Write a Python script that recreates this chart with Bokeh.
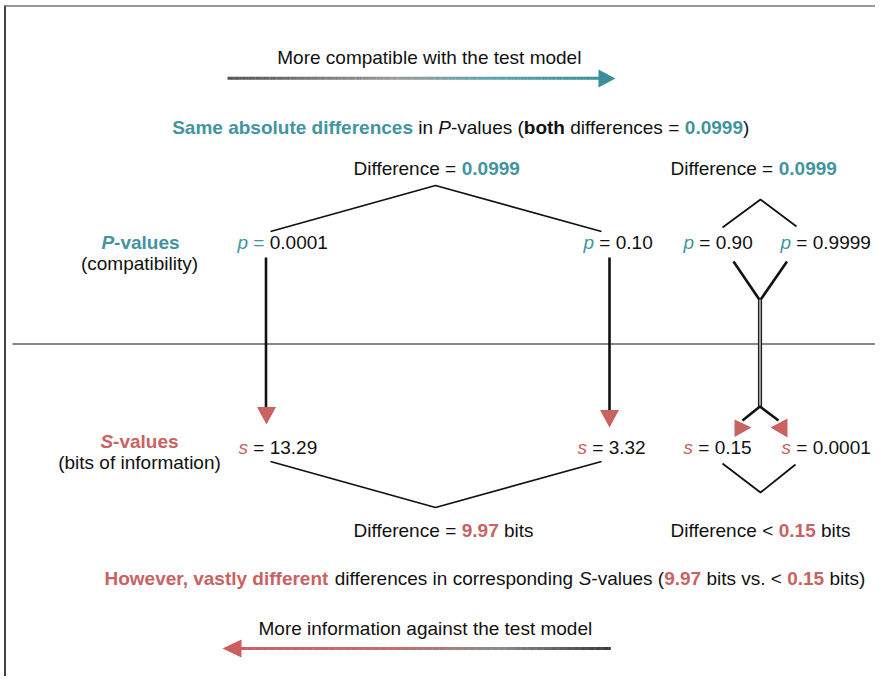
import numpy as np
from bokeh.plotting import figure
from bokeh.models import Range1d
from bokeh.embed import file_html
from bokeh.resources import INLINE
from bokeh.core.properties import value

# ---------------- data ----------------
p_values = ["0.0001", "0.10", "0.90", "0.9999"]
s_values = ["13.29", "3.32", "0.15", "0.0001"]
p_diffs = ["0.0999", "0.0999"]
s_diffs = ["9.97", "0.15"]
s_diff_ops = ["=", "<"]
row_labels = [("P", "-values", "(compatibility)"), ("S", "-values", "(bits of information)")]
top_caption = "More compatible with the test model"
bottom_caption = "More information against the test model"

# ---------------- layout (picture pixels) ----------------
p_label_x = [237, 583, 683, 780]
s_label_x = [238, 577, 683, 781]
P_BASE, S_BASE = 249, 453.5
TEXT_DY = -7

TEAL = "#42949f"
RED = "#c96262"
BLACK = "#111111"
FONT = "Liberation Sans"
FS = 19

REG = {' ': 278, '(': 333, ')': 333, ',': 278, '-': 333, '.': 278, '<': 584, '=': 584,
       'A': 667, 'B': 667, 'C': 722, 'D': 722, 'E': 667, 'F': 611, 'G': 778, 'H': 722, 'I': 278,
       'M': 833, 'P': 667, 'S': 667, 'T': 611,
       'a': 556, 'b': 556, 'c': 500, 'd': 556, 'e': 556, 'f': 278, 'g': 556, 'h': 556, 'i': 222,
       'j': 222, 'k': 500, 'l': 222, 'm': 833, 'n': 556, 'o': 556, 'p': 556, 'q': 556, 'r': 333,
       's': 500, 't': 278, 'u': 556, 'v': 500, 'w': 722, 'x': 500, 'y': 500, 'z': 500}
BOLD = {' ': 278, '(': 333, ')': 333, ',': 278, '-': 333, '.': 278, '<': 584, '=': 584,
        'H': 722, 'P': 667, 'S': 667,
        'a': 556, 'b': 611, 'c': 556, 'd': 611, 'e': 556, 'f': 333, 'g': 611, 'h': 611, 'i': 278,
        'l': 278, 'm': 889, 'n': 611, 'o': 611, 'r': 389, 's': 556, 't': 333, 'u': 611, 'v': 556,
        'w': 778, 'y': 556}


def tw(s, bold=False):
    t = BOLD if bold else REG
    return sum(t.get(c, 556) for c in s) * FS / 1000.0


W, H = 875, 676
p = figure(width=W, height=H, x_range=Range1d(0, W), y_range=Range1d(H, 0),
           output_backend="svg", toolbar_location=None, min_border=0,
           x_axis_location=None, y_axis_location=None)
p.grid.visible = False
p.outline_line_color = None
p.background_fill_color = "white"


def rich(x, y, parts, align="left"):
    total = sum(tw(s, b) for s, b, i, c in parts)
    if align == "center":
        x -= total / 2.0
    for s, b, i, c in parts:
        lead = len(s) - len(s.lstrip(" "))
        st = s.strip(" ")
        if st:
            style = "bold italic" if (b and i) else "bold" if b else "italic" if i else "normal"
            p.text(x=[x + tw(s[:lead], b)], y=[y + TEXT_DY], text=[st], text_font=value(FONT),
                   text_font_size=f"{FS}px", text_font_style=style, text_color=c,
                   text_baseline="alphabetic", text_align="left")
        x += tw(s, b)


def hexrgb(h):
    h = h.lstrip("#")
    return np.array([int(h[i:i + 2], 16) for i in (0, 2, 4)], float)


def grad_line(x0, x1, y, stops, width):
    n = 160
    xs = np.linspace(x0, x1, n + 1)
    pos = np.array([s[0] for s in stops])
    cols = np.array([hexrgb(s[1]) for s in stops])
    t = (np.arange(n) + 0.5) / n
    rgb = np.stack([np.interp(t, pos, cols[:, k]) for k in range(3)], axis=1)
    colors = ["#%02x%02x%02x" % tuple(int(round(v)) for v in c) for c in rgb]
    p.segment(x0=xs[:-1], y0=[y] * n, x1=xs[1:] + 0.3 * np.sign(x1 - x0), y1=[y] * n,
              line_color=colors, line_width=width)


# frame lines
p.line([4.5, 4.5], [5, H], line_color="black", line_width=1.5)
p.line([4, W], [5.5, 5.5], line_color="#777777", line_width=1.5)

# top arrow
top_stops = [(0, "#555555"), (0.45, "#999999"), (0.7, "#5ea3ab"), (1, "#3a8e98")]
grad_line(227, 599, 77.7, top_stops, 3)
p.patch([598, 598, 615], [69, 87, 78], fill_color="#3a8e98", line_color=None)
rich(428.8, 64, [(top_caption, False, False, BLACK)], align="center")

# title line
rich(171.7, 133.5, [("Same absolute differences", True, False, TEAL), (" in ", False, False, BLACK),
                    ("P", False, True, BLACK), ("-values (", False, False, BLACK),
                    ("both", True, False, BLACK), (" differences = ", False, False, BLACK),
                    (p_diffs[0], True, False, TEAL), (")", False, False, BLACK)])

# top difference labels
rich(353, 175, [("Difference = ", False, False, BLACK), (p_diffs[0], True, False, TEAL)])
rich(670, 175, [("Difference = ", False, False, BLACK), (p_diffs[1], True, False, TEAL)])

# roofs
p.line([270, 435, 601], [231, 185, 231], line_color=BLACK, line_width=1.8)
p.line([722, 760, 796], [227, 199, 226], line_color=BLACK, line_width=1.8)
p.line([270, 435, 601], [461, 507, 461], line_color=BLACK, line_width=1.8)
p.line([722, 760, 795], [463, 492, 464], line_color=BLACK, line_width=1.8)

# row labels
rich(140, 249, [(row_labels[0][0], True, True, TEAL), (row_labels[0][1], True, False, TEAL)], align="center")
rich(139, 270, [(row_labels[0][2], False, False, BLACK)], align="center")
rich(139, 448, [(row_labels[1][0], True, True, RED), (row_labels[1][1], True, False, RED)], align="center")
rich(139, 469, [(row_labels[1][2], False, False, BLACK)], align="center")

# p labels
for k, (xv, pv) in enumerate(zip(p_label_x, p_values)):
    eqc = TEAL if k == 0 else BLACK
    rich(xv, P_BASE, [("p", False, True, TEAL), (" = ", False, False, eqc), (pv, False, False, BLACK)])
# s labels
for xv, sv in zip(s_label_x, s_values):
    rich(xv, S_BASE, [("s", False, True, RED), (" = ", False, False, BLACK), (sv, False, False, BLACK)])

# separator
p.line([12, W], [343.5, 343.5], line_color=BLACK, line_width=1.2)

# vertical arrows
p.line([265.5, 265.5], [257, 408], line_color=BLACK, line_width=2.6)
p.patch([256.5, 275.5, 266], [406.5, 406.5, 424], fill_color=RED, line_color=None)
p.line([609, 609], [257, 411], line_color=BLACK, line_width=2.6)
p.patch([599.5, 618.5, 609], [409.5, 409.5, 427], fill_color=RED, line_color=None)

# merge / split on the right
p.line([733, 759.5, 786.5], [261, 300, 261], line_color=BLACK, line_width=2.6)
p.line([759.5, 759.5], [299, 407], line_color="#222222", line_width=4.2)
p.line([759.5, 759.5], [299, 407], line_color="#a8a8a8", line_width=1.8)
p.line([742, 759.5, 778], [420, 406, 420], line_color=BLACK, line_width=2.6)
p.patch([734, 734, 751], [419, 436.5, 427], fill_color=RED, line_color=None)
p.patch([787, 787, 770], [418, 437, 427], fill_color=RED, line_color=None)

# bottom difference labels
rich(353, 537, [("Difference ", False, False, BLACK), (s_diff_ops[0] + " ", False, False, BLACK),
                (s_diffs[0], True, False, RED), (" bits", False, False, BLACK)])
rich(670, 537, [("Difference ", False, False, BLACK), (s_diff_ops[1] + " ", False, False, BLACK),
                (s_diffs[1], True, False, RED), (" bits", False, False, BLACK)])

# bottom summary line
rich(104, 585, [("However, vastly different", True, False, RED),
                (" differences in corresponding ", False, False, BLACK),
                ("S", False, True, BLACK), ("-values (", False, False, BLACK),
                (s_diffs[0], True, False, RED), (" bits vs. < ", False, False, BLACK),
                (s_diffs[1], True, False, RED), (" bits)", False, False, BLACK)])

rich(258, 635, [(bottom_caption, False, False, BLACK)])
bot_stops = [(0, "#c95f5f"), (0.4, "#c46a6a"), (0.7, "#8a8a8a"), (1, "#3a3a3a")]
grad_line(240, 610, 648, bot_stops, 3)
p.patch([241, 241, 222], [639, 657, 648], fill_color="#c95f5f", line_color=None)

open("out.html", "w").write(file_html(p, INLINE))
